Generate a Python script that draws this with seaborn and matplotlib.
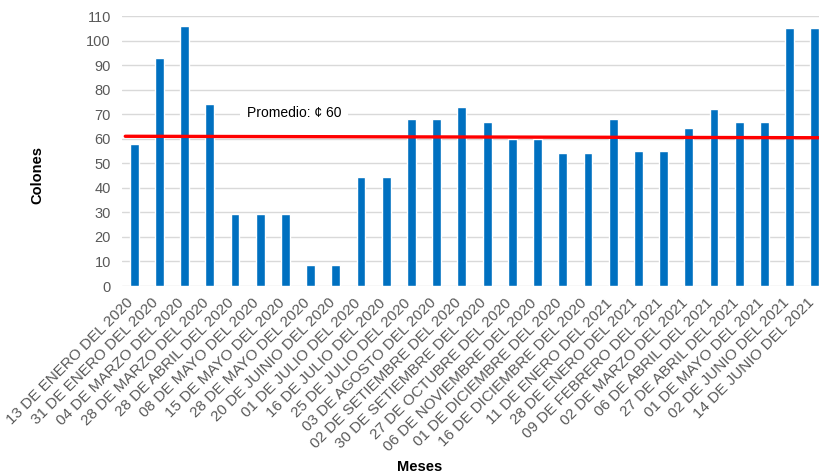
import matplotlib
matplotlib.use("Agg")
import matplotlib.pyplot as plt
import matplotlib.transforms as mtransforms
import seaborn as sns
import pandas as pd

categories = [
    "13 DE ENERO DEL 2020", "31 DE ENERO DEL 2020", "04 DE MARZO DEL 2020",
    "28 DE MARZO DEL 2020", "28 DE ABRIL DEL 2020", "08 DE MAYO DEL 2020",
    "15 DE MAYO DEL 2020", "28 DE MAYO DEL 2020", "20 DE JUINIO DEL 2020",
    "01 DE JULIO DEL 2020", "16 DE JULIO DEL 2020", "25 DE JULIO DEL 2020",
    "03 DE AGOSTO DEL 2020", "02 DE SETIEMBRE DEL 2020", "30 DE SETIEMBRE DEL 2020",
    "27 DE OCTUBRE DEL 2020", "06 DE NOVIEMBRE DEL 2020", "01 DE DICIEMBRE DEL 2020",
    "16 DE DICIEMBRE DEL 2020", "11 DE ENERO DEL 2021", "28 DE ENERO DEL 2021",
    "09 DE FEBRERO DEL 2021", "02 DE MARZO DEL 2021", "06 DE ABRIL DEL 2021",
    "27 DE ABRIL DEL 2021", "01 DE MAYO DEL 2021", "02 DE JUNIO DEL 2021",
    "14 DE JUNIO DEL 2021",
]
colones = [58, 93, 106, 74, 29.5, 29.5, 29.5, 8.5, 8.5, 44.5, 44.5, 68, 68, 73,
           67, 60, 60, 54, 54, 68, 55, 55, 64.5, 72, 67, 67, 105, 105]
promedio_line = [61.0, 60.4]
promedio_label = "Promedio: ¢ 60"
y_ticks = list(range(0, 111, 10))

sns.set_theme(style="white")
plt.rcParams["font.family"] = ["Liberation Sans", "DejaVu Sans"]

df = pd.DataFrame({"Meses": categories, "Colones": colones})

fig = plt.figure(figsize=(8.19, 4.76), dpi=100)
ax = fig.add_axes([122 / 819, 190 / 476, 705 / 819, 270 / 476])

sns.barplot(data=df, x="Meses", y="Colones", color="#0070C0", width=0.35,
            saturation=1, ax=ax, zorder=3)

ax.set_xlim(-0.48, len(categories) - 0.52)
ax.set_ylim(0, 110)
ax.set_yticks(y_ticks)
ax.yaxis.grid(True, color="#d9d9d9", linewidth=1, zorder=0)
ax.set_axisbelow(True)
for s in ax.spines.values():
    s.set_visible(False)

ax.plot([-0.35, len(categories) - 0.52], promedio_line, color="#FF0000",
        linewidth=2.4, zorder=4)
ax.text(6.35, 70.5, promedio_label, ha="center", va="center", fontsize=10,
        color="black", family=["Liberation Sans", "DejaVu Sans"], zorder=5,
        bbox=dict(facecolor="white", edgecolor="none", pad=5))

ax.tick_params(axis="y", length=0, labelsize=10.5, labelcolor="#595959", pad=8)
ax.tick_params(axis="x", length=0, labelsize=11, labelcolor="#595959", pad=7)
ax.set_xticks(range(len(categories)))
ax.set_xticklabels(categories, rotation=45, ha="right", rotation_mode="anchor")
shift = mtransforms.ScaledTranslation(-8 / 100, 0, fig.dpi_scale_trans)
for lbl in ax.get_xticklabels():
    lbl.set_transform(lbl.get_transform() + shift)

ax.set_xlabel("Meses", fontweight="bold", fontsize=10.5, color="black")
ax.set_ylabel("Colones", fontweight="bold", fontsize=10.5, color="black")
ax.xaxis.set_label_coords((420 - 122) / 705, (286 - 460) / 270)
ax.yaxis.set_label_coords((44 - 122) / 705, (286 - 175) / 270)

fig.savefig("out.png", dpi=100)
